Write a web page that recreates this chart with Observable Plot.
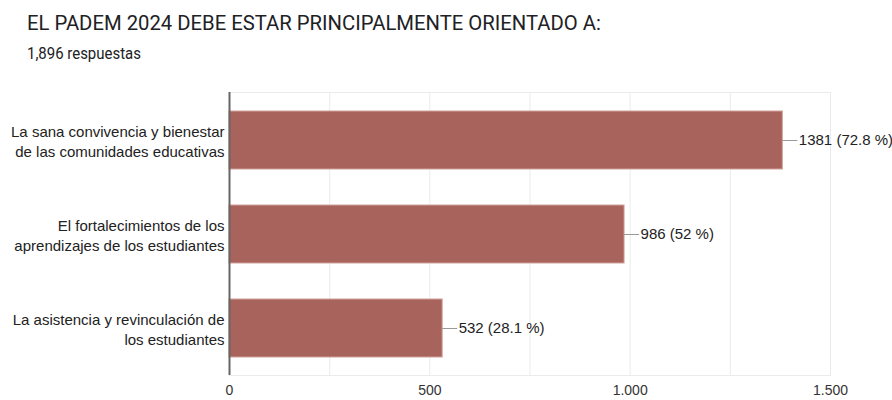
<!DOCTYPE html>
<html>
<head>
<meta charset="utf-8">
<script src="https://cdn.jsdelivr.net/npm/d3@7"></script>
<script src="https://cdn.jsdelivr.net/npm/@observablehq/plot@0.6"></script>
<style>
  html, body { margin: 0; padding: 0; background: #fff; }
  body { width: 892px; height: 400px; position: relative; overflow: hidden; }
  #title { position: absolute; left: 27px; top: 13px; font-family: Roboto, sans-serif; font-size: 21px; line-height: 21px; color: #202124; white-space: nowrap; transform: scaleX(0.965); transform-origin: 0 0; }
  #subtitle { position: absolute; left: 27px; top: 46px; font-family: Roboto, sans-serif; font-size: 16px; line-height: 16px; color: #202124; white-space: nowrap; transform: scaleX(0.935); transform-origin: 0 0; }
  #chart { position: absolute; left: 0; top: 70px; }
</style>
</head>
<body>
<div id="title">EL PADEM 2024 DEBE ESTAR PRINCIPALMENTE ORIENTADO A:</div>
<div id="subtitle">1,896 respuestas</div>
<div id="chart"></div>
<script>
const categories = [
  "La sana convivencia y bienestar\nde las comunidades educativas",
  "El fortalecimientos de los\naprendizajes de los estudiantes",
  "La asistencia y revinculación de\nlos estudiantes"
];
const counts = [1381, 986, 532];
const percents = ["72.8", "52", "28.1"];
const xTicks = [0, 500, 1000, 1500];
const gridTicks = [250, 500, 750, 1000, 1250, 1500];

const rows = categories.map((c, i) => ({category: c, value: counts[i], label: `${counts[i]} (${percents[i]} %)`}));
const fmt = d3.formatLocale({decimal: ",", thousands: ".", grouping: [3], currency: ["", ""]}).format(",");
const connector = 37.5; // data units between bar end and label (≈15px)

const chart = Plot.plot({
  width: 892,
  height: 330,
  marginLeft: 229,
  marginRight: 62,
  marginTop: 22,
  marginBottom: 25,
  style: {fontFamily: "'Liberation Sans', Arial, sans-serif", color: "#222", background: "#fff"},
  x: {domain: [0, 1500]},
  y: {domain: categories, paddingInner: 0.386, paddingOuter: 0.185},
  marks: [
    Plot.ruleX(gridTicks, {stroke: "#ebebeb", strokeOpacity: 1}),
    Plot.frame({stroke: "#ebebeb", strokeOpacity: 1}),
    Plot.barX(rows, {y: "category", x: "value", fill: "#a8635c", stroke: "#d2a19c", strokeWidth: 1}),
    Plot.ruleY(rows, {y: "category", x1: "value", x2: d => d.value + connector, stroke: "#999", strokeWidth: 1}),
    Plot.text(rows, {y: "category", x: d => d.value + connector, text: "label", textAnchor: "start", dx: 1, fontSize: 15, fill: "#222"}),
    Plot.ruleX([0], {stroke: "#666", strokeWidth: 2}),
    Plot.axisX({ticks: xTicks, tickFormat: fmt, tickSize: 0, tickPadding: 10, fontSize: 14, color: "#333", label: null}),
    Plot.axisY({tickSize: 0, tickPadding: 5, fontSize: 15, lineHeight: 1.33, textAnchor: "end", color: "#222", label: null})
  ]
});
document.getElementById("chart").appendChild(chart);
</script>
</body>
</html>
